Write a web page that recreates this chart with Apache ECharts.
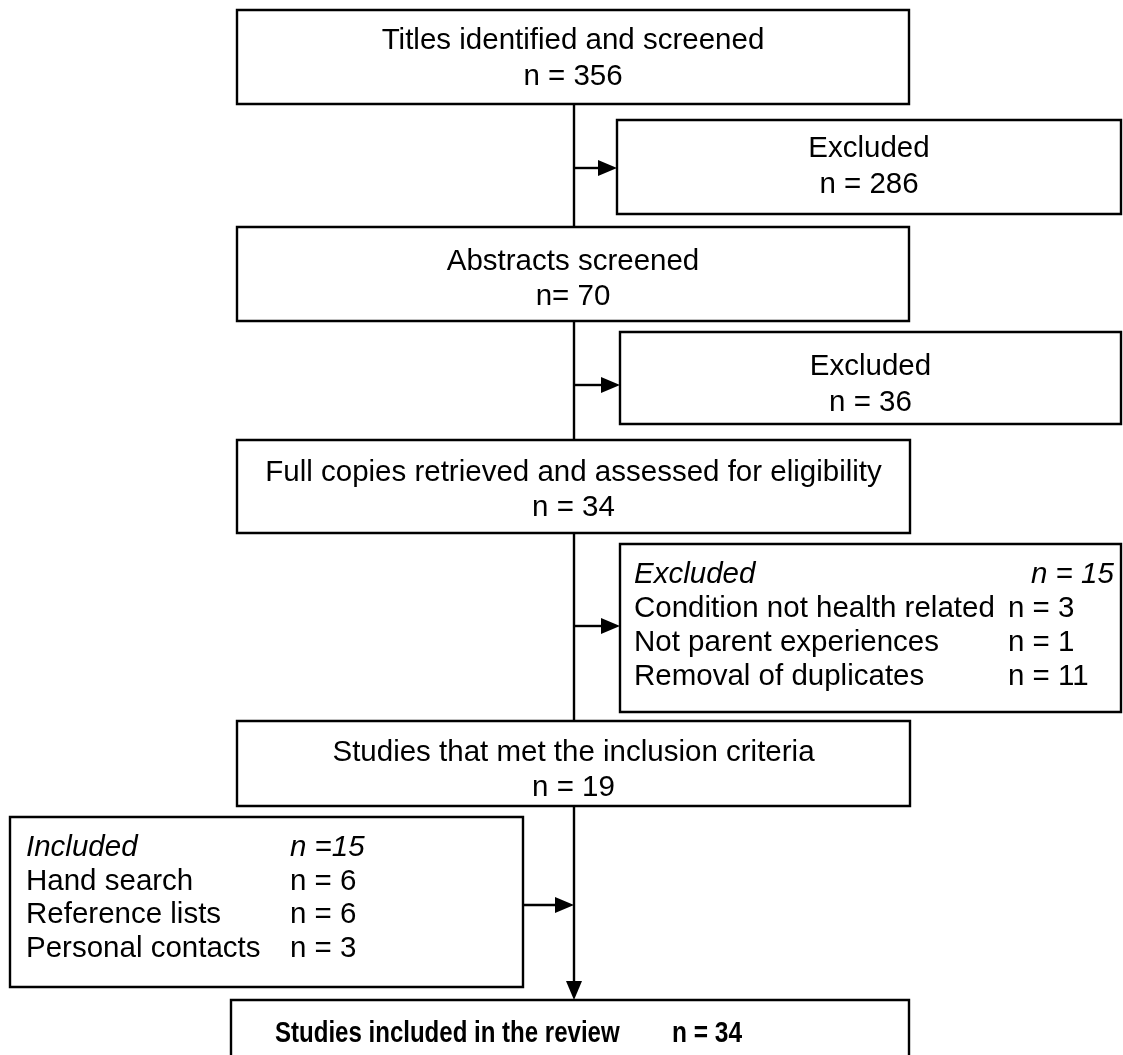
<!DOCTYPE html>
<html><head><meta charset="utf-8">
<script src="https://cdn.jsdelivr.net/npm/echarts@6/dist/echarts.min.js"></script>
<style>html,body{margin:0;padding:0;background:#fff}#c{width:1123px;height:1055px}</style>
</head><body><div id="c"></div>
<script>
// ---- content (data) ----
const stageLabels = ['Titles identified and screened', 'Abstracts screened', 'Full copies retrieved and assessed for eligibility', 'Studies that met the inclusion criteria'];
const stageCounts = ['n = 356', 'n= 70', 'n = 34', 'n = 19'];
const excludedLabel = 'Excluded';
const excludedCounts = ['n = 286', 'n = 36', 'n = 15'];
const reasonLabels = ['Condition not health related', 'Not parent experiences', 'Removal of duplicates'];
const reasonCounts = ['n = 3', 'n = 1', 'n = 11'];
const includedLabel = 'Included';
const includedTotal = 'n =15';
const sourceLabels = ['Hand search', 'Reference lists', 'Personal contacts'];
const sourceCounts = ['n = 6', 'n = 6', 'n = 3'];
const finalLabel = 'Studies included in the review';
const finalCount = 'n = 34';

// ---- layout (positions in chart units) ----
const W = 1123, H = 1055;
const FONT = '"Liberation Sans", Arial, Helvetica, sans-serif';
const FS = 29.5;
const LW = 2.4;
const spineX = 574;
const stageBoxes = [
  {x0: 237, y0: 10, x1: 909, y1: 104, ty: [41, 77]},
  {x0: 237, y0: 227, x1: 909, y1: 321, ty: [262, 297]},
  {x0: 237, y0: 440, x1: 910, y1: 533, ty: [473, 508]},
  {x0: 237, y0: 721, x1: 910, y1: 806, ty: [753, 788]}
];
const exclBoxes = [
  {x0: 617, y0: 120, x1: 1121, y1: 214, ty: [149, 185], ay: 168},
  {x0: 620, y0: 332, x1: 1121, y1: 424, ty: [367, 403], ay: 385}
];
const reasonBox = {x0: 620, y0: 544, x1: 1121, y1: 712, lx: 634, rx: 1008, rx0: 1031, ry: [575, 609, 643, 677], ay: 626};
const inclBox = {x0: 10, y0: 817, x1: 523, y1: 987, lx: 26, rx: 290, ry: [848, 882, 915, 949], ay: 905};
const finalBox = {x0: 231, y0: 1000, x1: 909, y1: 1075, ty: 1034, lx: 275, rx: 672};

const items = [];
stageBoxes.forEach((b, i) => items.push({type: 'stage', i}));
exclBoxes.forEach((b, i) => items.push({type: 'excl', i}));
items.push({type: 'reason'});
items.push({type: 'incl'});
items.push({type: 'final'});
items.push({type: 'links'});

function txt(api, x, y, s, opt) {
  const p = api.coord([x, y]);
  opt = opt || {};
  return {
    type: 'text',
    x: p[0], y: p[1],
    scaleX: opt.scaleX || 1,
    style: {
      text: s, fill: '#000',
      fontSize: opt.fs || FS, fontFamily: FONT,
      fontStyle: opt.italic ? 'italic' : 'normal',
      fontWeight: opt.bold ? 'bold' : 'normal',
      textAlign: opt.align || 'left', textVerticalAlign: 'middle'
    }
  };
}
function rect(api, b) {
  const p0 = api.coord([b.x0, b.y0]), p1 = api.coord([b.x1, b.y1]);
  return {type: 'rect', shape: {x: p0[0], y: p0[1], width: p1[0] - p0[0], height: p1[1] - p0[1]},
    style: {fill: '#fff', stroke: '#000', lineWidth: LW}};
}
function line(api, a, b) {
  const p0 = api.coord(a), p1 = api.coord(b);
  return {type: 'line', shape: {x1: p0[0], y1: p0[1], x2: p1[0], y2: p1[1]}, style: {stroke: '#000', lineWidth: LW}};
}
const AH = 19, AW = 8;
function arrowRight(api, x0, x1, y) {
  const p0 = api.coord([x0, y]), p1 = api.coord([x1, y]);
  return [
    {type: 'line', shape: {x1: p0[0], y1: p0[1], x2: p1[0] - AH + 2, y2: p1[1]}, style: {stroke: '#000', lineWidth: LW}},
    {type: 'polygon', shape: {points: [[p1[0], p1[1]], [p1[0] - AH, p1[1] - AW], [p1[0] - AH, p1[1] + AW]]}, style: {fill: '#000'}}
  ];
}
function arrowDown(api, x, y0, y1) {
  const p0 = api.coord([x, y0]), p1 = api.coord([x, y1]);
  return [
    {type: 'line', shape: {x1: p0[0], y1: p0[1], x2: p1[0], y2: p1[1] - AH + 2}, style: {stroke: '#000', lineWidth: LW}},
    {type: 'polygon', shape: {points: [[p1[0], p1[1]], [p1[0] - AW, p1[1] - AH], [p1[0] + AW, p1[1] - AH]]}, style: {fill: '#000'}}
  ];
}

function renderItem(params, api) {
  const it = items[params.dataIndex];
  const ch = [];
  if (it.type === 'stage') {
    const b = stageBoxes[it.i];
    const cx = (b.x0 + b.x1) / 2;
    ch.push(rect(api, b));
    ch.push(txt(api, cx, b.ty[0], stageLabels[it.i], {align: 'center'}));
    ch.push(txt(api, cx, b.ty[1], stageCounts[it.i], {align: 'center'}));
  } else if (it.type === 'excl') {
    const b = exclBoxes[it.i];
    const cx = (b.x0 + b.x1) / 2;
    ch.push(rect(api, b));
    ch.push(txt(api, cx, b.ty[0], excludedLabel, {align: 'center'}));
    ch.push(txt(api, cx, b.ty[1], excludedCounts[it.i], {align: 'center'}));
  } else if (it.type === 'reason') {
    const b = reasonBox;
    ch.push(rect(api, b));
    ch.push(txt(api, b.lx, b.ry[0], excludedLabel, {italic: true}));
    ch.push(txt(api, b.rx0, b.ry[0], excludedCounts[2], {italic: true}));
    reasonLabels.forEach((s, k) => {
      ch.push(txt(api, b.lx, b.ry[k + 1], s));
      ch.push(txt(api, b.rx, b.ry[k + 1], reasonCounts[k]));
    });
  } else if (it.type === 'incl') {
    const b = inclBox;
    ch.push(rect(api, b));
    ch.push(txt(api, b.lx, b.ry[0], includedLabel, {italic: true}));
    ch.push(txt(api, b.rx, b.ry[0], includedTotal, {italic: true}));
    sourceLabels.forEach((s, k) => {
      ch.push(txt(api, b.lx, b.ry[k + 1], s));
      ch.push(txt(api, b.rx, b.ry[k + 1], sourceCounts[k]));
    });
  } else if (it.type === 'final') {
    const b = finalBox;
    ch.push(rect(api, b));
    ch.push(txt(api, b.lx, b.ty, finalLabel, {bold: true, scaleX: 0.815}));
    ch.push(txt(api, b.rx, b.ty, finalCount, {bold: true, scaleX: 0.83}));
  } else {
    const s = stageBoxes;
    ch.push(line(api, [spineX, s[0].y1], [spineX, s[1].y0]));
    ch.push(line(api, [spineX, s[1].y1], [spineX, s[2].y0]));
    ch.push(line(api, [spineX, s[2].y1], [spineX, s[3].y0]));
    ch.push(...arrowDown(api, spineX, s[3].y1, finalBox.y0));
    ch.push(...arrowRight(api, spineX, exclBoxes[0].x0, exclBoxes[0].ay));
    ch.push(...arrowRight(api, spineX, exclBoxes[1].x0, exclBoxes[1].ay));
    ch.push(...arrowRight(api, spineX, reasonBox.x0, reasonBox.ay));
    ch.push(...arrowRight(api, inclBox.x1, spineX, inclBox.ay));
  }
  return {type: 'group', children: ch};
}

const chart = echarts.init(document.getElementById('c'));
chart.setOption({
  backgroundColor: '#fff',
  animation: false,
  grid: {left: 0, right: 0, top: 0, bottom: 0},
  xAxis: {type: 'value', min: 0, max: W, show: false},
  yAxis: {type: 'value', min: 0, max: H, inverse: true, show: false},
  series: [{
    type: 'custom',
    clip: false,
    renderItem: renderItem,
    data: items.map((d, i) => [i]),
    encode: {x: 0, y: 0},
    silent: true
  }]
});
</script>
</body></html>
